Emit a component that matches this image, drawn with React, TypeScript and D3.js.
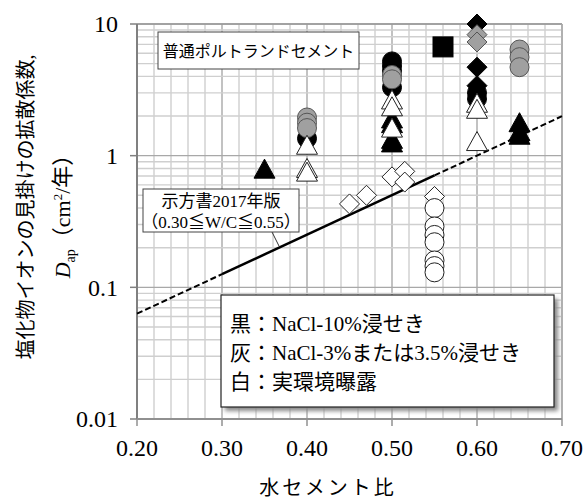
import React from "react";
import * as d3 from "d3";

// ---- data ----
const blackCircleWC = [0.40, 0.50, 0.50, 0.50, 0.50, 0.60, 0.60];
const blackCircleD = [1.35, 5.2, 4.8, 4.4, 3.3, 3.0, 2.7];
const blackTriWC = [0.35, 0.50, 0.50, 0.50, 0.50, 0.65, 0.65, 0.65];
const blackTriD = [0.79, 1.9, 1.75, 1.33, 1.25, 1.78, 1.52, 1.43];
const blackDiaWC = [0.60, 0.60, 0.60];
const blackDiaD = [10.0, 4.7, 3.4];
const blackSqWC = [0.56];
const blackSqD = [6.7];
const grayCircleWC = [0.40, 0.40, 0.40, 0.50, 0.50, 0.65, 0.65, 0.65];
const grayCircleD = [1.95, 1.78, 1.62, 4.1, 3.8, 6.4, 5.6, 4.7];
const grayDiaWC = [0.60, 0.60];
const grayDiaD = [8.3, 7.3];
const whiteTriWC = [0.40, 0.40, 0.40, 0.50, 0.50, 0.50, 0.60, 0.60, 0.60];
const whiteTriD = [1.2, 0.8, 0.75, 2.65, 2.35, 1.62, 2.5, 2.25, 1.28];
const whiteDiaWC = [0.45, 0.47, 0.50, 0.515, 0.515, 0.55];
const whiteDiaD = [0.43, 0.5, 0.69, 0.76, 0.63, 0.49];
const whiteCircleWC = [0.55, 0.55, 0.55, 0.55, 0.55, 0.55, 0.55];
const whiteCircleD = [0.4, 0.29, 0.25, 0.22, 0.16, 0.145, 0.13];

const xTicks = [0.2, 0.3, 0.4, 0.5, 0.6, 0.7];
const yTicks = [0.01, 0.1, 1, 10];
const yTickLabels = ["0.01", "0.1", "1", "10"];

// JSCE 2017 formula: log10(Dap) = 3.0 (W/C) - 1.8
const lineSlope = 3.0;
const lineIntercept = -1.8;

const FONT = "'Liberation Serif', 'Times New Roman', 'Noto Sans CJK JP', serif";

const xScale = d3.scaleLinear().domain([0.2, 0.7]).range([137, 562]);
const yScale = d3.scaleLog().domain([0.01, 10]).range([419, 24]);

const triPath = "M0,-10L10.5,9L-10.5,9Z";
const diaPath = "M0,-10L10,0L0,10L-10,0Z";

type Style = { fill: string; stroke: string };
const BLACK: Style = { fill: "#000", stroke: "#000" };
const GRAY: Style = { fill: "#a0a0a0", stroke: "#555" };
const WHITE: Style = { fill: "#fff", stroke: "#222" };

function Marks({ wc, d, shape, style }: { wc: number[]; d: number[]; shape: string; style: Style }) {
  return (
    <g>
      {wc.map((w, i) => {
        const cx = xScale(w);
        const cy = yScale(d[i]);
        if (shape === "circle")
          return <circle key={i} cx={cx} cy={cy} r={9.5} fill={style.fill} stroke={style.stroke} strokeWidth={1} />;
        if (shape === "square")
          return <rect key={i} x={cx - 10} y={cy - 10} width={20} height={20} fill={style.fill} stroke={style.stroke} />;
        return (
          <path key={i} d={shape === "tri" ? triPath : diaPath} transform={`translate(${cx},${cy})`} fill={style.fill} stroke={style.stroke} strokeWidth={1} />
        );
      })}
    </g>
  );
}

export default function App() {
  const [x0, x1] = xScale.range();
  const [yb, yt] = yScale.range();
  const minorX = d3.range(0, 26).map((i) => 0.2 + i * 0.02);
  const minorY: number[] = [];
  [0.01, 0.1, 1].forEach((dec) => {
    for (let m = 1; m <= 9; m++) minorY.push(dec * m);
  });
  minorY.push(10);
  const isMajorX = (v: number) => Math.abs(v * 10 - Math.round(v * 10)) < 1e-6;
  const isMajorY = (v: number) => Math.abs(Math.log10(v) - Math.round(Math.log10(v))) < 1e-6;

  const lineGen = d3
    .line<number>()
    .x((w) => xScale(w))
    .y((w) => yScale(Math.pow(10, lineSlope * w + lineIntercept)));

  return (
    <svg width={588} height={503} style={{ position: "absolute", left: 0, top: 0, background: "#fff" }} fontFamily={FONT}>
      <defs>
        <filter id="blur" x="-10%" y="-10%" width="120%" height="130%">
          <feGaussianBlur stdDeviation="2" />
        </filter>
      </defs>
      <rect x={0} y={0} width={588} height={503} fill="#fff" />
      {/* grid */}
      <g>
        {minorX.map((v, i) => (
          <line key={"gx" + i} x1={xScale(v)} x2={xScale(v)} y1={yt} y2={yb} stroke={isMajorX(v) ? "#a8a8a8" : "#cfcfcf"} strokeWidth={1.4} />
        ))}
        {minorY.map((v, i) => (
          <line key={"gy" + i} x1={x0} x2={x1} y1={yScale(v)} y2={yScale(v)} stroke={isMajorY(v) ? "#a8a8a8" : "#cfcfcf"} strokeWidth={1.4} />
        ))}
      </g>
      {/* plot border */}
      <line x1={x0} x2={x1} y1={yt} y2={yt} stroke="#999" strokeWidth={1.5} />
      <line x1={x1} x2={x1} y1={yt} y2={yb} stroke="#aaa" strokeWidth={1.5} />
      {/* axes */}
      <line x1={x0} x2={x0} y1={yt} y2={yb} stroke="#808080" strokeWidth={2} />
      <line x1={x0} x2={x1} y1={yb} y2={yb} stroke="#909090" strokeWidth={2} />
      {yTicks.map((v, i) => (
        <g key={"yt" + i}>
          <line x1={x0 - 7} x2={x0} y1={yScale(v)} y2={yScale(v)} stroke="#808080" strokeWidth={1.5} />
          <text x={118} y={yScale(v)} dy="0.35em" textAnchor="end" fontSize={24} fill="#000">
            {yTickLabels[i]}
          </text>
        </g>
      ))}
      {xTicks.map((v, i) => (
        <g key={"xt" + i}>
          <line x1={xScale(v)} x2={xScale(v)} y1={yb} y2={yb + 7} stroke="#909090" strokeWidth={1.5} />
          <text x={xScale(v)} y={448} dy="0.35em" textAnchor="middle" fontSize={24} fill="#000">
            {v.toFixed(2)}
          </text>
        </g>
      ))}

      {/* design line */}
      <path d={lineGen([0.2, 0.3]) || ""} fill="none" stroke="#000" strokeWidth={2} strokeDasharray="6,3" />
      <path d={lineGen([0.3, 0.55]) || ""} fill="none" stroke="#000" strokeWidth={2.5} />
      <path d={lineGen([0.55, 0.7]) || ""} fill="none" stroke="#000" strokeWidth={2} strokeDasharray="6,3" />

      {/* markers: black, gray, white */}
      <Marks wc={blackCircleWC} d={blackCircleD} shape="circle" style={BLACK} />
      <Marks wc={blackTriWC} d={blackTriD} shape="tri" style={BLACK} />
      <Marks wc={blackDiaWC} d={blackDiaD} shape="dia" style={BLACK} />
      <Marks wc={blackSqWC} d={blackSqD} shape="square" style={BLACK} />
      <Marks wc={grayCircleWC} d={grayCircleD} shape="circle" style={GRAY} />
      <Marks wc={grayDiaWC} d={grayDiaD} shape="dia" style={GRAY} />
      <Marks wc={whiteTriWC} d={whiteTriD} shape="tri" style={WHITE} />
      <Marks wc={whiteDiaWC} d={whiteDiaD} shape="dia" style={WHITE} />
      <Marks wc={whiteCircleWC} d={whiteCircleD} shape="circle" style={WHITE} />

      {/* title box */}
      <rect x={158} y={32} width={201} height={37} fill="#fff" stroke="#444" strokeWidth={1} />
      <text x={258.5} y={51} dy="0.35em" textAnchor="middle" fontSize={16} fill="#000">
        普通ポルトランドセメント
      </text>

      {/* annotation box */}
      <line x1={272} y1={232} x2={279} y2={246} stroke="#333" strokeWidth={1} />
      <rect x={143} y={189} width={156} height={43} fill="#fff" stroke="#444" strokeWidth={1} />
      <text x={221} y={201} dy="0.35em" textAnchor="middle" fontSize={17} fill="#000">
        示方書2017年版
      </text>
      <text x={221} y={222} dy="0.35em" textAnchor="middle" fontSize={17} fill="#000">
        （0.30≦W/C≦0.55）
      </text>

      {/* legend */}
      <rect x={225} y={299} width={333} height={112} fill="#888" filter="url(#blur)" />
      <rect x={221} y={295} width={333} height={112} fill="#fff" stroke="#222" strokeWidth={1.2} />
      <text x={230} y={324} dy="0.35em" fontSize={21} fill="#000">黒：NaCl-10%浸せき</text>
      <text x={230} y={353} dy="0.35em" fontSize={21} fill="#000">灰：NaCl-3%または3.5%浸せき</text>
      <text x={230} y={382} dy="0.35em" fontSize={21} fill="#000">白：実環境曝露</text>

      {/* axis titles */}
      <text x={328} y={488} dy="0.35em" textAnchor="middle" fontSize={20} fill="#000" letterSpacing={3}>
        水セメント比
      </text>
      <text transform="translate(26,207) rotate(-90)" dy="0.35em" textAnchor="middle" fontSize={20} fill="#000">
        塩化物イオンの見掛けの拡散係数,
      </text>
      <text transform="translate(62,211) rotate(-90)" dy="0.35em" textAnchor="middle" fontSize={22} fill="#000">
        <tspan fontStyle="italic">D</tspan>
        <tspan fontSize={14} dy={5}>ap</tspan>
        <tspan dy={-5}>（cm</tspan>
        <tspan fontSize={13} dy={-8}>2</tspan>
        <tspan dy={8}>/年）</tspan>
      </text>
    </svg>
  );
}
